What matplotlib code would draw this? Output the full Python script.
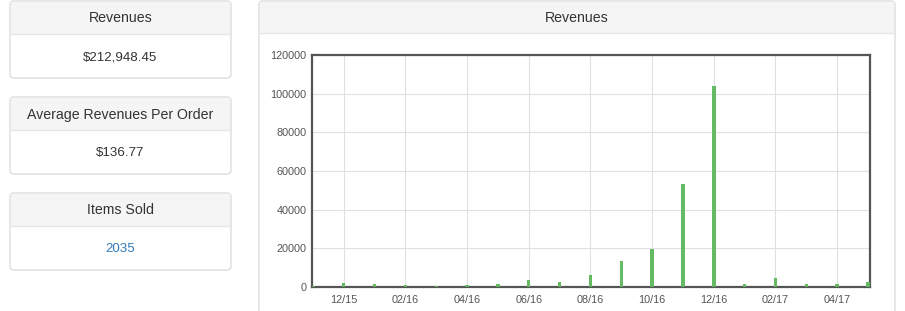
import matplotlib.pyplot as plt
from matplotlib.patches import FancyBboxPatch, Rectangle
import numpy as np

plt.rcParams['font.family'] = ['Liberation Sans', 'DejaVu Sans']

# --- Datos ---
months = ['11/15', '12/15', '01/16', '02/16', '03/16', '04/16', '05/16',
          '06/16', '07/16', '08/16', '09/16', '10/16', '11/16', '12/16',
          '01/17', '02/17', '03/17', '04/17', '05/17']
revenues = [400, 1900, 1800, 1100, 500, 900, 1600, 3500, 2800, 6400,
            13200, 19600, 53500, 104000, 1300, 4700, 1300, 1700, 2800]
tick_labels = months[1::2]

card_titles = ['Revenues', 'Average Revenues Per Order', 'Items Sold']
card_values = ['$212,948.45', '$136.77', '2035']
value_colors = ['#333333', '#333333', '#337ab7']

W, H = 905, 311
fig = plt.figure(figsize=(W / 100, H / 100), dpi=100)
fig.patch.set_facecolor('white')

# capa de fondo en pixeles
bg = fig.add_axes([0, 0, 1, 1], zorder=0)
bg.set_xlim(0, W)
bg.set_ylim(H, 0)
bg.axis('off')

border = '#dddddd'
head_bg = '#f5f5f5'


def panel(x0, y0, x1, y1, yh, title):
    bg.add_patch(FancyBboxPatch((x0, y0), x1 - x0, y1 - y0,
                                boxstyle='round,pad=0,rounding_size=4',
                                fc='white', ec=border, lw=1))
    bg.add_patch(Rectangle((x0 + 0.8, y0 + 0.8), x1 - x0 - 1.6, yh - y0 - 0.8,
                           fc=head_bg, ec='none'))
    bg.plot([x0, x1], [yh, yh], color='#e6e6e6', lw=1)
    bg.text((x0 + x1) / 2, (y0 + yh) / 2 + 1, title, ha='center', va='center',
            fontsize=10.2, color='#333333')


# tarjetas de la izquierda
tops = [1, 97, 193]
for top, t, v, c in zip(tops, card_titles, card_values, value_colors):
    panel(10, top, 231, top + 77, top + 33, t)
    bg.text(120.5, top + 56, v, ha='center', va='center', fontsize=9.6, color=c)

# panel del grafico
panel(259, 1, 895, 330, 33, 'Revenues')

# --- Grafico de barras ---
ax = fig.add_axes([312 / W, 1 - 287 / H, (870 - 312) / W, (287 - 55) / H], zorder=1)
x = np.arange(len(months))
ax.bar(x, revenues, width=0.11, color='#5cb85c', alpha=0.95, zorder=3)
ax.set_xlim(-0.03, len(months) - 1 + 0.065)
ax.set_ylim(0, 120000)
ax.set_yticks(np.arange(0, 120001, 20000))
ax.set_xticks(x[1::2])
ax.set_xticklabels(tick_labels)
ax.grid(True, color='#e0e0e0', lw=0.8, zorder=0)
ax.tick_params(length=0, labelsize=7.8, labelcolor='#555555', pad=4)
ax.tick_params(axis='x', pad=6)
for s in ax.spines.values():
    s.set_color('#555555')
    s.set_linewidth(1.6)

fig.savefig('out.png', dpi=100)
